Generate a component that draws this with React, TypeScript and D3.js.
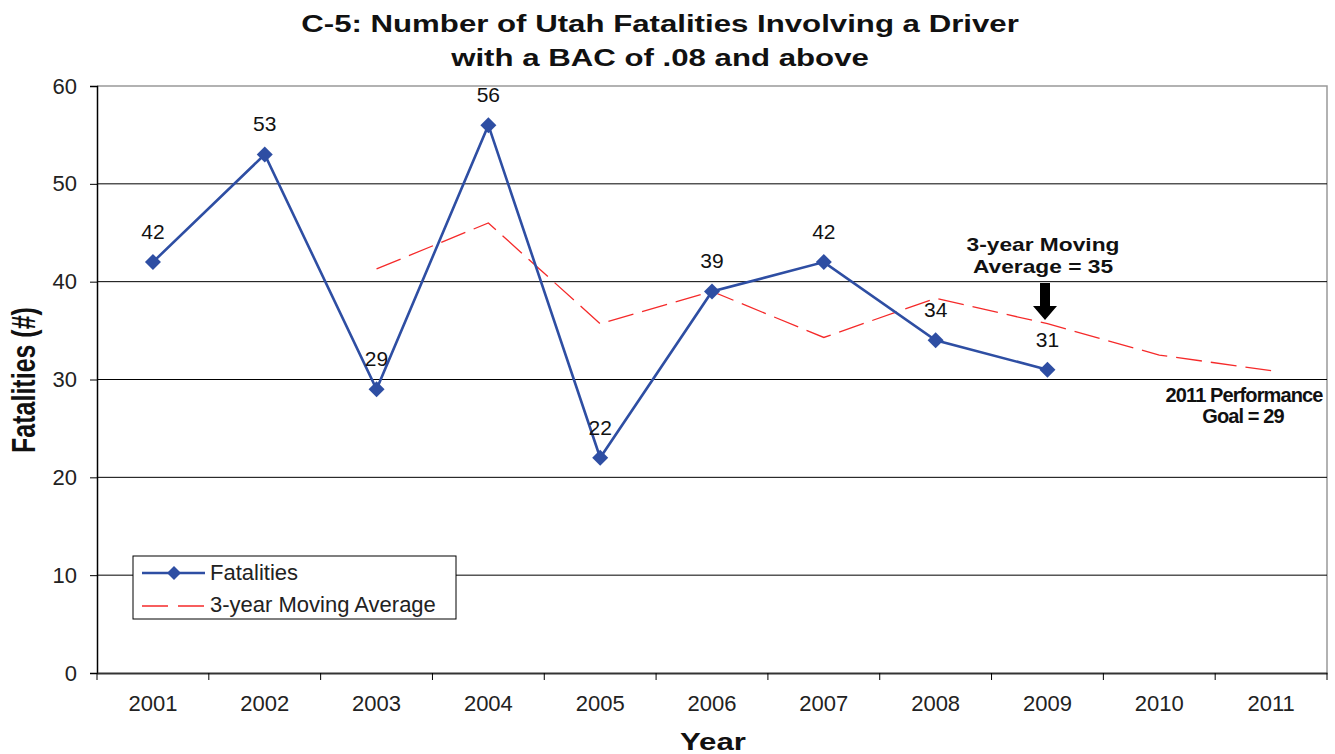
import * as d3 from "d3";
import { useEffect, useRef } from "react";

const years = ["2001", "2002", "2003", "2004", "2005", "2006", "2007", "2008", "2009", "2010", "2011"];
const fatalities = [42, 53, 29, 56, 22, 39, 42, 34, 31];
const movingAvg = [null, null, 41.3, 46, 35.7, 39, 34.3, 38.3, 35.7, 32.5, 30.9];
const yTicks = [0, 10, 20, 30, 40, 50, 60];
const legendLabels = ["Fatalities", "3-year Moving Average"];

const App = () => {
  const ref = useRef<SVGSVGElement>(null);

  useEffect(() => {
    const svg = d3.select(ref.current);
    const width = 1335;
    const height = 754;
    const left = 97;
    const right = 1327;
    const top = 86;
    const bottom = 673;
    const font = "Arial, 'Liberation Sans', sans-serif";
    const blue = "#2e4ea3";
    const red = "#f52a2a";

    svg.attr("width", width).attr("height", height);

    const x = d3.scaleBand().domain(years).range([left, right]).padding(0);
    const cx = (yr: string) => (x(yr) as number) + x.bandwidth() / 2;
    const y = d3.scaleLinear().domain([0, 60]).range([bottom, top]);

    svg.append("rect").attr("width", width).attr("height", height).attr("fill", "#fff");

    // bold text in the picture is stretched a bit wider than Arial
    const boldText = (tx: number, ty: number, str: string, size: number, rot = 0) =>
      svg
        .append("text")
        .attr("transform", `translate(${tx},${ty}) scale(1.3,1)${rot ? ` rotate(${rot})` : ""}`)
        .attr("text-anchor", "middle")
        .attr("font-family", font)
        .attr("font-weight", "bold")
        .attr("font-size", size)
        .attr("fill", "#111")
        .text(str);

    // title
    boldText(660, 32, "C-5: Number of Utah Fatalities Involving a Driver", 24);
    boldText(660, 66, "with a BAC of .08 and above", 24);

    // plot frame
    svg
      .append("path")
      .attr("d", `M${left},${top}H${right}V${bottom}`)
      .attr("fill", "none")
      .attr("stroke", "#999")
      .attr("stroke-width", 1.5);

    // gridlines
    svg
      .append("g")
      .selectAll("line")
      .data(yTicks.filter((t) => t > 0 && t < 60))
      .join("line")
      .attr("x1", left)
      .attr("x2", right)
      .attr("y1", (d) => y(d))
      .attr("y2", (d) => y(d))
      .attr("stroke", "#000")
      .attr("stroke-width", 1);

    // y axis
    const yAxis = svg
      .append("g")
      .attr("transform", `translate(${left},0)`)
      .call(d3.axisLeft(y).tickValues(yTicks).tickSize(7).tickPadding(13));
    yAxis.select(".domain").attr("stroke", "#000").attr("stroke-width", 1.5);
    yAxis.selectAll(".tick line").attr("stroke", "#000");
    yAxis
      .selectAll(".tick text")
      .attr("font-family", font)
      .attr("font-size", 22)
      .attr("fill", "#222");

    // x axis
    const xAxis = svg
      .append("g")
      .attr("transform", `translate(0,${bottom})`)
      .call(d3.axisBottom(x).tickSize(0).tickPadding(22));
    xAxis.select(".domain").attr("stroke", "#333").attr("stroke-width", 2);
    xAxis
      .selectAll(".tick text")
      .attr("font-family", font)
      .attr("font-size", 22)
      .attr("fill", "#222");
    svg
      .append("g")
      .selectAll("line")
      .data([...years.map((yr) => x(yr) as number), right])
      .join("line")
      .attr("x1", (d) => d)
      .attr("x2", (d) => d)
      .attr("y1", bottom)
      .attr("y2", bottom + 7)
      .attr("stroke", "#000");

    // axis titles
    boldText(713, 750, "Year", 24);
    boldText(35, 380, "Fatalities (#)", 25, -90);

    // moving average
    const maData = years
      .map((yr, i) => ({ yr, v: movingAvg[i] }))
      .filter((d) => d.v !== null) as { yr: string; v: number }[];
    svg
      .append("path")
      .datum(maData)
      .attr(
        "d",
        d3
          .line<{ yr: string; v: number }>()
          .x((d) => cx(d.yr))
          .y((d) => y(d.v))
      )
      .attr("fill", "none")
      .attr("stroke", red)
      .attr("stroke-width", 1.3)
      .attr("stroke-dasharray", "26,9");

    // fatalities
    const fData = fatalities.map((v, i) => ({ yr: years[i], v }));
    svg
      .append("path")
      .datum(fData)
      .attr(
        "d",
        d3
          .line<{ yr: string; v: number }>()
          .x((d) => cx(d.yr))
          .y((d) => y(d.v))
      )
      .attr("fill", "none")
      .attr("stroke", blue)
      .attr("stroke-width", 2.6);

    const diamond = (r: number) => `M0,${-r}L${r},0L0,${r}L${-r},0Z`;
    svg
      .append("g")
      .selectAll("path")
      .data(fData)
      .join("path")
      .attr("d", diamond(8))
      .attr("transform", (d) => `translate(${cx(d.yr)},${y(d.v)})`)
      .attr("fill", blue);

    svg
      .append("g")
      .selectAll("text")
      .data(fData)
      .join("text")
      .attr("x", (d) => cx(d.yr))
      .attr("y", (d) => y(d.v) - 23)
      .attr("text-anchor", "middle")
      .attr("font-family", font)
      .attr("font-size", 21)
      .attr("fill", "#111")
      .text((d) => d.v);

    // annotation: 3-year moving average
    boldText(1043, 251, "3-year Moving", 17.5);
    boldText(1043, 273, "Average = 35", 17.5);
    const ax = 1045;
    svg
      .append("path")
      .attr("d", `M${ax - 5},283H${ax + 5}V306H${ax + 12}L${ax},320L${ax - 12},306H${ax - 5}Z`)
      .attr("fill", "#000");

    // annotation: 2011 goal
    const goal = svg
      .append("text")
      .attr("text-anchor", "middle")
      .attr("font-family", "'Liberation Sans Narrow', 'Arial Narrow', Arial, sans-serif")
      .attr("font-weight", "bold")
      .attr("font-size", 20)
      .attr("letter-spacing", -0.9)
      .attr("fill", "#111");
    goal.append("tspan").attr("x", 1244).attr("y", 402).text("2011 Performance");
    goal.append("tspan").attr("x", 1243).attr("y", 423).text("Goal = 29");

    // legend
    const lg = svg.append("g").attr("transform", "translate(133,556)");
    lg.append("rect")
      .attr("width", 323)
      .attr("height", 63)
      .attr("fill", "#fff")
      .attr("stroke", "#000")
      .attr("stroke-width", 1);
    lg.append("line")
      .attr("x1", 9)
      .attr("x2", 72)
      .attr("y1", 17)
      .attr("y2", 17)
      .attr("stroke", blue)
      .attr("stroke-width", 2.6);
    lg.append("path").attr("d", diamond(7)).attr("transform", "translate(41,17)").attr("fill", blue);
    lg.append("line")
      .attr("x1", 9)
      .attr("x2", 72)
      .attr("y1", 50)
      .attr("y2", 50)
      .attr("stroke", red)
      .attr("stroke-width", 1.3)
      .attr("stroke-dasharray", "26,10");
    lg.selectAll("text.lbl")
      .data(legendLabels)
      .join("text")
      .attr("class", "lbl")
      .attr("x", 77)
      .attr("y", (_, i) => 24 + i * 32)
      .attr("font-family", font)
      .attr("font-size", 22)
      .attr("fill", "#222")
      .text((d) => d);

    return () => {
      svg.selectAll("*").remove();
    };
  }, []);

  return <svg ref={ref} style={{ position: "absolute", left: 0, top: 0 }}></svg>;
};

export default App;
